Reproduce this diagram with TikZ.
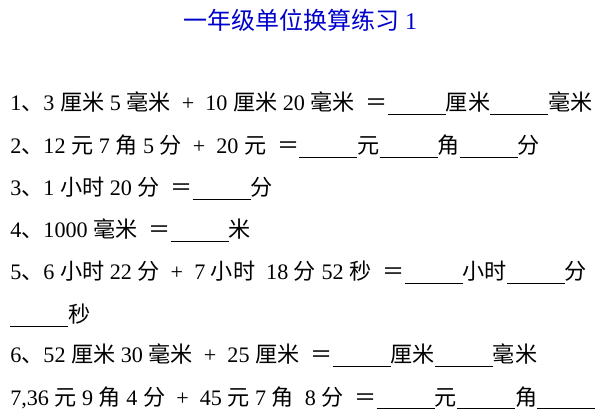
\documentclass[tikz,border=0pt]{standalone}
\usepackage{fontspec}
\setmainfont{Liberation Serif}
\newfontfamily\cjk{Noto Sans CJK SC}
\newlength\px \setlength\px{0.75pt}
\newcommand\bl[1]{\rule[-2.5pt]{#1\px}{0.6pt}}
\newcommand\zh[1]{{\cjk #1}}
\newcommand\pl{\ \ +\ \ }
\begin{document}
\begin{tikzpicture}[x=0.75pt,y=-0.75pt,
  ln/.style={anchor=base west,inner sep=0pt,font=\fontsize{16.6pt}{18pt}\selectfont}]
\useasboundingbox (0,0) rectangle (600,420);
\node[anchor=base,inner sep=0pt,text=blue!80!black,font=\fontsize{18pt}{20pt}\selectfont] (t) at (300,30) {{\cjk 一年级单位换算练习} 1};
\node[ln] (l1) at (10,111) {1\zh{、}3 \zh{厘米} 5 \zh{毫米}\pl 10 \zh{厘米} 20 \zh{毫米} \ \zh{＝}\bl{58}\zh{厘米}\bl{58}\zh{毫米}};
\node[ln] (l2) at (10,154) {2\zh{、}12 \zh{元} 7 \zh{角} 5 \zh{分}\pl 20 \zh{元} \ \zh{＝}\bl{58}\zh{元}\bl{58}\zh{角}\bl{58}\zh{分}};
\node[ln] (l3) at (10,196) {3\zh{、}1 \zh{小时} 20 \zh{分} \ \zh{＝}\bl{58}\zh{分}};
\node[ln] (l4) at (10,238) {4\zh{、}1000 \zh{毫米} \ \zh{＝}\bl{58}\zh{米}};
\node[ln] (l5) at (10,280) {5\zh{、}6 \zh{小时} 22 \zh{分}\pl 7 \zh{小时} \ 18 \zh{分} 52 \zh{秒} \ \zh{＝}\bl{58}\zh{小时}\bl{58}\zh{分}};
\node[ln] (l5b) at (10,323) {\bl{58}\zh{秒}};
\node[ln] (l6) at (10,363) {6\zh{、}52 \zh{厘米} 30 \zh{毫米}\pl 25 \zh{厘米} \ \zh{＝}\bl{58}\zh{厘米}\bl{58}\zh{毫米}};
\node[ln] (l7) at (10,405) {7,36 \zh{元} 9 \zh{角} 4 \zh{分}\pl 45 \zh{元} 7 \zh{角} \ 8 \zh{分} \ \zh{＝}\bl{58}\zh{元}\bl{58}\zh{角}\bl{58}};
\end{tikzpicture}
\end{document}
